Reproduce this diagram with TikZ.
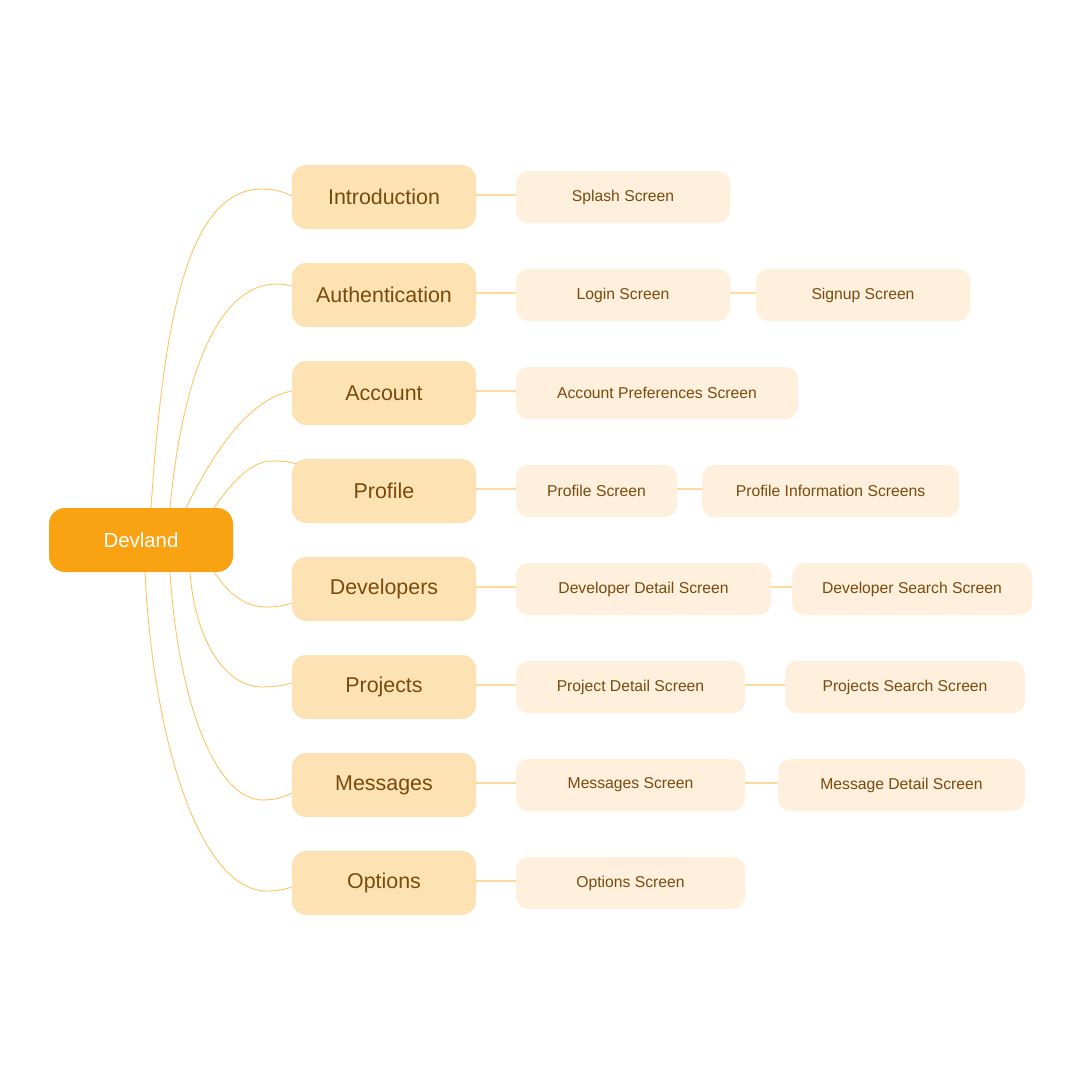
\documentclass[tikz,border=0pt]{standalone}
\usepackage{fontspec}
\setmainfont{Liberation Sans}
\definecolor{rootfill}{HTML}{F9A313}
\definecolor{lonefill}{HTML}{FDE2B3}
\definecolor{ltwofill}{HTML}{FEF0DD}
\definecolor{txtbrown}{HTML}{7A4A0C}
\definecolor{curvecol}{HTML}{FBC464}
\definecolor{hlinecol}{HTML}{FDDA9C}
\begin{document}
\begin{tikzpicture}[x=1pt,y=-1pt,
  rootbox/.style={rectangle,rounded corners=16pt,fill=rootfill,text=white,minimum width=184pt,minimum height=64pt,inner sep=0pt,font=\fontsize{20.4}{24}\selectfont},
  lonebox/.style={rectangle,rounded corners=14pt,fill=lonefill,text=txtbrown,minimum width=184pt,minimum height=64pt,inner sep=0pt,font=\fontsize{21.4}{25}\selectfont},
  ltwobox/.style={rectangle,rounded corners=12pt,fill=ltwofill,text=txtbrown,minimum height=52pt,inner sep=0pt,font=\fontsize{15.7}{19}\selectfont},
  curvelink/.style={draw=curvecol,line width=0.9pt},
  hlink/.style={draw=hlinecol,line width=1.6pt}]
\useasboundingbox (0,0) rectangle (1080,1080);

\node[rootbox] (root) at (141,540) {Devland};

\node[lonebox] (intro) at (384,197) {Introduction};
\node[lonebox] (auth) at (384,295) {Authentication};
\node[lonebox] (acct) at (384,393) {Account};
\node[lonebox] (prof) at (384,491) {Profile};
\node[lonebox] (devs) at (384,589) {Developers};
\node[lonebox] (proj) at (384,687) {Projects};
\node[lonebox] (msgs) at (384,785) {Messages};
\node[lonebox] (opts) at (384,883) {Options};

\node[ltwobox,minimum width=214pt] (splash) at (623,197) {Splash Screen};
\node[ltwobox,minimum width=214pt] (login) at (623,295) {Login Screen};
\node[ltwobox,minimum width=214pt] (signup) at (863,295) {Signup Screen};
\node[ltwobox,minimum width=282pt] (accpref) at (657,393) {Account Preferences Screen};
\node[ltwobox,minimum width=161pt] (profscr) at (596.5,491) {Profile Screen};
\node[ltwobox,minimum width=257pt] (profinfo) at (830.5,491) {Profile Information Screens};
\node[ltwobox,minimum width=255pt] (devdet) at (643.5,589) {Developer Detail Screen};
\node[ltwobox,minimum width=240pt] (devsrch) at (912,589) {Developer Search Screen};
\node[ltwobox,minimum width=229pt] (projdet) at (630.5,687) {Project Detail Screen};
\node[ltwobox,minimum width=240pt] (projsrch) at (905,687) {Projects Search Screen};
\node[ltwobox,minimum width=229pt] (msgscr) at (630.5,785) {Messages Screen};
\node[ltwobox,minimum width=247pt] (msgdet) at (901.5,785) {Message Detail Screen};
\node[ltwobox,minimum width=229pt] (optscr) at (630.5,883) {Options Screen};

% horizontal links
\foreach \a/\b in {intro/splash,auth/login,login/signup,acct/accpref,prof/profscr,profscr/profinfo,devs/devdet,devdet/devsrch,proj/projdet,projdet/projsrch,msgs/msgscr,msgscr/msgdet,opts/optscr}
  \draw[hlink] ([yshift=2pt]\a.east) -- ([yshift=2pt]\b.west);

% curved links from the root
\draw[curvelink] ([xshift=10pt]root.north) .. controls (163,330) and (185,189) .. (262,189) .. controls (275,189) and (284,192) .. ([yshift=1pt]intro.west);
\draw[curvelink] ([xshift=29pt]root.north) .. controls (180,400) and (210,284) .. (277,284) .. controls (283,284) and (288,285) .. ([yshift=9pt]auth.west);
\draw[curvelink] ([xshift=45pt]root.north) .. controls (210,460) and (245,400) .. ([yshift=2pt]acct.west);
\draw[curvelink] ([xshift=73pt]root.north) .. controls (230,485) and (250,461) .. (272,461) .. controls (282,461) and (291,462) .. ([xshift=5pt,yshift=-5pt]prof.north west);
\draw[curvelink] ([xshift=73pt]root.south) .. controls (230,595) and (245,607) .. (267,607) .. controls (278,607) and (286,605) .. ([yshift=-14pt]devs.west);
\draw[curvelink] ([xshift=49pt]root.south) .. controls (195,640) and (225,687) .. (262,687) .. controls (275,687) and (285,685) .. ([yshift=4pt]proj.west);
\draw[curvelink] ([xshift=29pt]root.south) .. controls (178,700) and (215,800) .. (263,800) .. controls (275,800) and (285,797) .. ([yshift=-8pt]msgs.west);
\draw[curvelink] ([xshift=4pt]root.south) .. controls (153,740) and (200,891) .. (267,891) .. controls (278,891) and (286,889) .. ([yshift=-4pt]opts.west);
\end{tikzpicture}
\end{document}
